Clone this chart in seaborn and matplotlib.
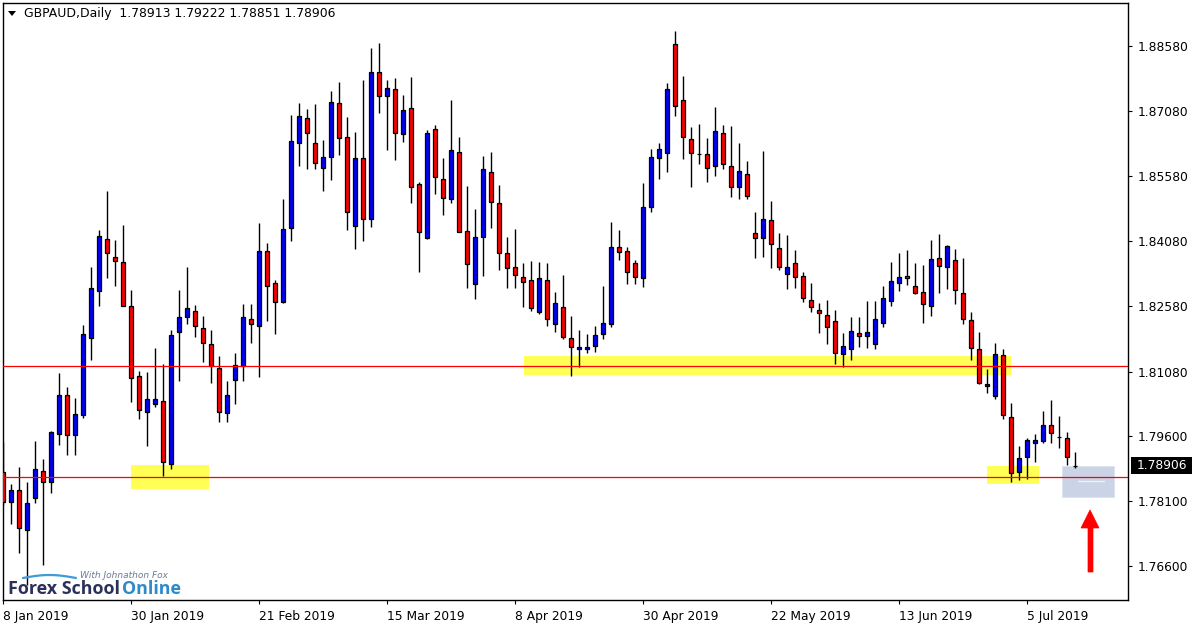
import numpy as np
import pandas as pd
import matplotlib
matplotlib.use("Agg")
import matplotlib.pyplot as plt
from matplotlib.patches import Rectangle, Polygon
import seaborn as sns

# ---------------- data ----------------
title_text = "GBPAUD,Daily  1.78913 1.79222 1.78851 1.78906"

opens = [1.78766, 1.78075, 1.78351, 1.77430, 1.78167, 1.78789, 1.78536, 1.79642, 1.80540, 1.79618,
         1.80079, 1.81853, 1.82936, 1.84134, 1.83719, 1.83604, 1.82590, 1.80978, 1.80148, 1.80333,
         1.80402, 1.78950, 1.81991, 1.82337, 1.82475, 1.82084, 1.81715, 1.81162, 1.80125, 1.80886,
         1.81208, 1.82291, 1.82130, 1.83858, 1.83120, 1.82683, 1.84387, 1.86346, 1.86922, 1.86346,
         1.85770, 1.86023, 1.87267, 1.86484, 1.84433, 1.86000, 1.84595, 1.87981, 1.87428, 1.87590,
         1.86553, 1.87152, 1.85401, 1.84157, 1.86668, 1.85516, 1.85055, 1.86138, 1.84318, 1.83097,
         1.84180, 1.85678, 1.84963, 1.83811, 1.83489, 1.83259, 1.83189, 1.82452, 1.83189, 1.82176,
         1.82567, 1.81853, 1.81600, 1.81600, 1.81669, 1.81945, 1.82176, 1.83950, 1.83858, 1.83581,
         1.83235, 1.84871, 1.86000, 1.86115, 1.88626, 1.87336, 1.86438, 1.86095, 1.86092, 1.85816,
         1.86576, 1.85816, 1.85332, 1.85631, 1.84272, 1.84157, 1.84572, 1.83927, 1.83328, 1.83581,
         1.83282, 1.82729, 1.82498, 1.82383, 1.82245, 1.81485, 1.81600, 1.81968, 1.81899, 1.81715,
         1.82199, 1.82706, 1.83120, 1.83282, 1.83051, 1.82913, 1.82590, 1.83696, 1.83489, 1.83650,
         1.82890, 1.82268, 1.81600, 1.80747, 1.80517, 1.81462, 1.80033, 1.78766, 1.79112, 1.79434,
         1.79480, 1.79849, 1.79575, 1.79549, 1.78913]
highs = [1.79457, 1.78490, 1.78881, 1.78536, 1.79480, 1.79066, 1.79711, 1.81047, 1.80724, 1.80471,
         1.82153, 1.83489, 1.84341, 1.85240, 1.84111, 1.84456, 1.82959, 1.81093, 1.81070, 1.81623,
         1.81254, 1.82037, 1.82959, 1.83489, 1.82613, 1.82360, 1.82037, 1.81439, 1.80863, 1.81508,
         1.82636, 1.82636, 1.84503, 1.84042, 1.83189, 1.85055, 1.86991, 1.87267, 1.87129, 1.87244,
         1.86415, 1.87544, 1.87751, 1.86945, 1.86599, 1.87797, 1.88534, 1.88649, 1.87797, 1.87843,
         1.87451, 1.87866, 1.85447, 1.86645, 1.86760, 1.86000, 1.87336, 1.86484, 1.85355, 1.84825,
         1.86046, 1.86138, 1.85378, 1.84180, 1.84364, 1.83581, 1.83627, 1.83604, 1.83581, 1.82913,
         1.83305, 1.82360, 1.82037, 1.81945, 1.82130, 1.83051, 1.84526, 1.84341, 1.83950, 1.83650,
         1.85424, 1.86207, 1.86346, 1.87728, 1.88926, 1.87889, 1.86714, 1.86783, 1.86461, 1.87175,
         1.86760, 1.86737, 1.86346, 1.85931, 1.84756, 1.86161, 1.85009, 1.84272, 1.84226, 1.83881,
         1.83374, 1.83120, 1.82660, 1.82729, 1.82498, 1.81968, 1.82337, 1.82337, 1.82706, 1.82706,
         1.83051, 1.83604, 1.83811, 1.83881, 1.83581, 1.83535, 1.84111, 1.84249, 1.83996, 1.83904,
         1.83696, 1.82452, 1.81991, 1.81139, 1.81738, 1.81600, 1.80356, 1.79365, 1.79549, 1.79642,
         1.80171, 1.80425, 1.80056, 1.79688, 1.79222]
lows = [1.78006, 1.77568, 1.76907, 1.76163, 1.78052, 1.76631, 1.78282, 1.79388, 1.79158, 1.79158,
        1.80010, 1.81346, 1.82590, 1.83235, 1.83051, 1.82590, 1.80379, 1.79987, 1.79365, 1.80264,
        1.78674, 1.78835, 1.80863, 1.82176, 1.81876, 1.81300, 1.80816, 1.79918, 1.79918, 1.80333,
        1.80863, 1.81738, 1.80955, 1.82245, 1.81945, 1.82660, 1.84088, 1.85816, 1.85747, 1.85747,
        1.85240, 1.85493, 1.86069, 1.84341, 1.83904, 1.84088, 1.84410, 1.87037, 1.86184, 1.85954,
        1.86369, 1.84963, 1.83374, 1.84134, 1.85171, 1.84687, 1.84963, 1.84295, 1.83005, 1.82752,
        1.83282, 1.84387, 1.83420, 1.83005, 1.83005, 1.82567, 1.82475, 1.82406, 1.82130, 1.81991,
        1.81830, 1.80978, 1.81185, 1.81508, 1.81531, 1.81830, 1.82107, 1.83650, 1.83097, 1.83097,
        1.83028, 1.84756, 1.85516, 1.85678, 1.86968, 1.85977, 1.85332, 1.85862, 1.85447, 1.85585,
        1.85747, 1.85101, 1.85055, 1.85055, 1.83696, 1.83719, 1.83466, 1.83420, 1.82982, 1.83005,
        1.82683, 1.82452, 1.81968, 1.81715, 1.81254, 1.81185, 1.81346, 1.81646, 1.81623, 1.81600,
        1.82107, 1.82590, 1.82936, 1.83074, 1.82867, 1.82199, 1.82360, 1.82890, 1.82982, 1.82636,
        1.82176, 1.81346, 1.80793, 1.80586, 1.80448, 1.79987, 1.78536, 1.78582, 1.78605, 1.78996,
        1.79434, 1.79434, 1.79319, 1.78927, 1.78851]
closes = [1.78075, 1.78351, 1.77476, 1.78052, 1.78835, 1.78536, 1.79688, 1.80540, 1.79618, 1.80102,
          1.81945, 1.83005, 1.84203, 1.83811, 1.83627, 1.82590, 1.80932, 1.80194, 1.80448, 1.80448,
          1.78996, 1.81922, 1.82337, 1.82544, 1.82130, 1.81738, 1.81208, 1.80148, 1.80540, 1.81231,
          1.82337, 1.82176, 1.83858, 1.83051, 1.82683, 1.84364, 1.86392, 1.86968, 1.86576, 1.85885,
          1.86023, 1.87290, 1.86461, 1.84756, 1.86000, 1.84595, 1.87981, 1.87428, 1.87613, 1.86576,
          1.87106, 1.85332, 1.84295, 1.86576, 1.85562, 1.85079, 1.86184, 1.84300, 1.83558, 1.84180,
          1.85747, 1.84986, 1.83811, 1.83466, 1.83305, 1.83143, 1.82544, 1.83235, 1.82291, 1.82660,
          1.81876, 1.81646, 1.81646, 1.81646, 1.81922, 1.82199, 1.83950, 1.83834, 1.83374, 1.83259,
          1.84871, 1.86023, 1.86207, 1.87590, 1.87198, 1.86484, 1.86115, 1.86090, 1.85770, 1.86622,
          1.85862, 1.85332, 1.85701, 1.85125, 1.84157, 1.84595, 1.84019, 1.83489, 1.83489, 1.83259,
          1.82775, 1.82567, 1.82429, 1.82107, 1.81508, 1.81669, 1.82014, 1.81899, 1.81991, 1.82291,
          1.82775, 1.83166, 1.83259, 1.83235, 1.82890, 1.82636, 1.83673, 1.83512, 1.83973, 1.82959,
          1.82291, 1.81623, 1.80816, 1.80793, 1.81485, 1.80079, 1.78743, 1.79089, 1.79503, 1.79503,
          1.79849, 1.79665, 1.79570, 1.79112, 1.78906]

date_tick_labels = ["8 Jan 2019", "30 Jan 2019", "21 Feb 2019", "15 Mar 2019", "8 Apr 2019",
                    "30 Apr 2019", "22 May 2019", "13 Jun 2019", "5 Jul 2019"]
bars_per_date_tick = 16
price_ticks = [1.88580, 1.87080, 1.85580, 1.84080, 1.82580, 1.81080, 1.79600, 1.78100, 1.76600]
price_tick_labels = ["1.88580", "1.87080", "1.85580", "1.84080", "1.82580",
                     "1.81080", "1.79600", "1.78100", "1.76600"]
level_lines = [1.81208, 1.78651]
current_price = 1.78906
current_label = "1.78906"

# ---------------- figure ----------------
sns.set_style("white")
plt.rcParams['font.family'] = ['DejaVu Sans']

W, H = 1200, 627
fig = plt.figure(figsize=(W / 100, H / 100), dpi=100)
fig.patch.set_facecolor("white")

def fx(x):
    return x / W

def fy(y):
    return 1 - y / H

ax = fig.add_axes([fx(3), fy(600), (1128 - 3) / W, (600 - 3) / H])
ax.set_facecolor("white")

o = np.array(opens); h = np.array(highs); l = np.array(lows); c = np.array(closes)
x = np.arange(len(o))
df = pd.DataFrame({"x": x, "open": o, "high": h, "low": l, "close": c})
df["bull"] = df["close"] > df["open"]
df["bottom"] = df[["open", "close"]].min(axis=1)
df["height"] = (df["close"] - df["open"]).abs().clip(lower=0.00003)

y_top, y_bot = 1.89571, 1.75817
ax.set_xlim(0, 140.625)
ax.set_ylim(y_bot, y_top)

# highlight zones (behind candles)
zone_color = "#FFFF55"
zones = [(16.0, 25.75, 1.78374, 1.78927),
         (65.125, 126.0, 1.81001, 1.81439),
         (123.0, 129.5, 1.78490, 1.78904)]
for x0, x1, y0, y1 in zones:
    ax.add_patch(Rectangle((x0, y0), x1 - x0, y1 - y0, facecolor=zone_color,
                           edgecolor="none", zorder=1))

# blue-grey box at the right
ax.add_patch(Rectangle((132.375, 1.78198), 6.5, 1.78904 - 1.78198,
                       facecolor="#CBD4E6", edgecolor="#DCE2EE", lw=0.7, zorder=1))
ax.plot([134.4, 137.6], [1.78554, 1.78554], color="#EEF1F7", lw=1.0, zorder=1.5)

# horizontal level lines
for lv in level_lines:
    ax.axhline(lv, color="#FF0000", lw=0.9, zorder=4)

# wicks
ax.vlines(df["x"], df["low"], df["high"], color="black", lw=1.0, zorder=2)
# bodies
colors = np.where(df["bull"], "#0000FF", "#FF0000")
ax.bar(df["x"], df["height"], bottom=df["bottom"], width=0.5, color=colors,
       edgecolor="black", linewidth=0.9, zorder=3)

# axes styling
for s in ax.spines.values():
    s.set_color("black")
    s.set_linewidth(1.0)

ax.yaxis.tick_right()
ax.set_yticks(price_ticks)
ax.set_yticklabels(price_tick_labels)
ax.tick_params(axis="y", which="both", right=True, left=False, direction="out",
               length=3, width=0.8, pad=4, labelsize=8.8, colors="black")

ax.set_xticks(np.arange(len(date_tick_labels)) * bars_per_date_tick)
ax.set_xticklabels(date_tick_labels, ha="left")
ax.tick_params(axis="x", which="both", bottom=True, direction="out",
               length=3, width=0.8, pad=4, labelsize=8.8, colors="black")
ax.grid(False)

# current price label
ytr = ax.get_yaxis_transform()
half = 8.5 * (y_top - y_bot) / 597
ax.add_patch(Rectangle(((1131 - 3) / 1125, current_price - half), 61 / 1125, 2 * half,
                       transform=ytr, facecolor="black", edgecolor="none", clip_on=False, zorder=5))
ax.text((1161.5 - 3) / 1125, current_price, current_label, transform=ytr, color="white",
        ha="center", va="center", fontsize=8.8, zorder=6, clip_on=False)

# title with triangle
fig.add_artist(Polygon([(fx(8), fy(11)), (fx(16), fy(11)), (fx(12), fy(16))],
                       closed=True, facecolor="black", edgecolor="none",
                       transform=fig.transFigure))
fig.text(fx(24), fy(14), title_text, fontsize=8.95, ha="left", va="center", color="black")

# red arrow
arrow_pts = [(1088, 572), (1088, 528), (1081, 528), (1090, 510), (1099, 528),
             (1093, 528), (1093, 572)]
fig.add_artist(Polygon([(fx(a), fy(b)) for a, b in arrow_pts], closed=True,
                       facecolor="#FF0000", edgecolor="#FF0000", lw=0.5,
                       transform=fig.transFigure))

# logo
swoosh_x = np.linspace(23, 76, 30)
fig.add_artist(plt.Line2D(fx(swoosh_x), fy(578 - 3 * np.sin((swoosh_x - 23) / 53 * np.pi)),
                          color="#3F9AD6", lw=1.6, transform=fig.transFigure))
fig.text(fx(80), fy(575), "With Johnathon Fox", fontsize=6.5, style="italic",
         color="#6A7A9A", ha="left", va="center")
fig.text(fx(8), fy(589), "Forex School", fontsize=12.9, fontweight="bold",
         color="#2C3159", ha="left", va="center", family="Open Sans")
fig.text(fx(122), fy(589), "Online", fontsize=12.9, fontweight="bold",
         color="#2E8BCB", ha="left", va="center", family="Open Sans")

fig.savefig("out.png", dpi=100, facecolor="white")
